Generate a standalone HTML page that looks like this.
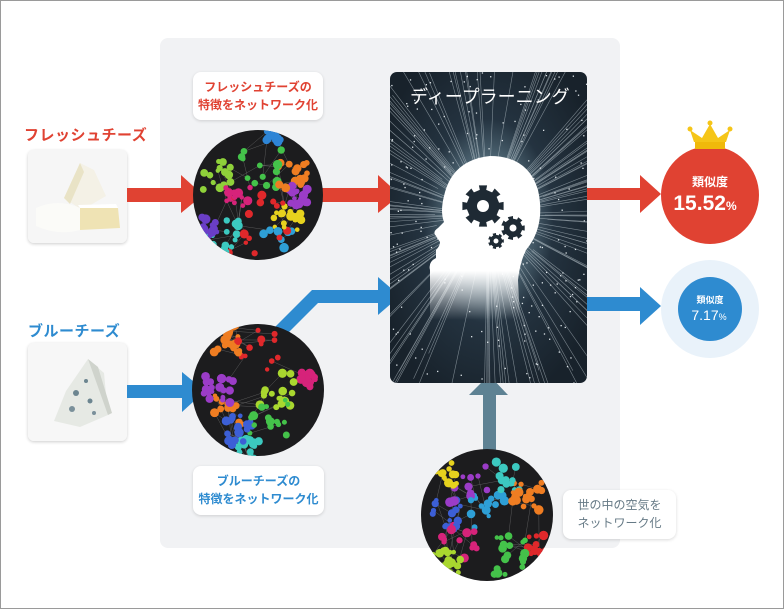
<!DOCTYPE html>
<html><head><meta charset="utf-8">
<style>
html,body{margin:0;padding:0;background:#fff;}
body{width:784px;height:609px;position:relative;overflow:hidden;font-family:"Liberation Sans","Noto Sans CJK JP",sans-serif;}
.frame{position:absolute;left:0;top:0;width:782px;height:607px;border:1px solid #9a9a9a;}
.panel{position:absolute;left:160px;top:38px;width:460px;height:510px;background:#f1f2f4;border-radius:8px;}
.lbl{position:absolute;font-weight:bold;font-size:15px;letter-spacing:0.5px;}
.card{position:absolute;background:#fafafa;border-radius:6px;box-shadow:0 1px 3px rgba(0,0,0,0.2);overflow:hidden;}
.callout{position:absolute;background:#fff;border-radius:8px;box-shadow:0 1px 3px rgba(0,0,0,0.15);text-align:center;font-weight:bold;font-size:12px;line-height:18px;}
svg{position:absolute;left:0;top:0;}
</style></head><body>
<div class="frame"></div>
<div class="panel"></div>

<div class="lbl" style="left:24px;top:124px;color:#e04232;">フレッシュチーズ</div>
<div class="card" style="left:28px;top:150px;width:99px;height:93px;">
 <svg width="99" height="93" viewBox="0 0 99 93">
  <rect width="99" height="93" fill="#f6f6f6"/>
  <polygon points="52,13 66,20 78,46 54,60 36,48" fill="#f4f1e6"/>
  <polygon points="52,13 36,48 42,54 56,22" fill="#e9e3c6"/>
  <path d="M8,58 Q30,48 52,58 L52,80 Q30,86 8,76 Z" fill="#fbfbf8"/>
  <polygon points="52,58 90,58 92,78 52,80" fill="#efe3b4"/>
  <polygon points="52,58 90,58 88,54 50,55" fill="#fff"/>
 </svg>
</div>
<div class="lbl" style="left:28px;top:320px;color:#2e8bd0;">ブルーチーズ</div>
<div class="card" style="left:28px;top:343px;width:99px;height:98px;">
 <svg width="99" height="98" viewBox="0 0 99 98">
  <rect width="99" height="98" fill="#f7f7f7"/>
  <polygon points="60,16 76,30 80,72 52,84 26,78 38,48" fill="#e6e9e4"/>
  <polygon points="60,16 80,72 84,70 70,24" fill="#cfd3cc"/>
  <circle cx="48" cy="50" r="3" fill="#6c8590"/><circle cx="58" cy="38" r="2" fill="#6c8590"/>
  <circle cx="44" cy="66" r="3" fill="#7a909a"/><circle cx="62" cy="58" r="2.5" fill="#6c8590"/>
  <circle cx="66" cy="70" r="2" fill="#7a909a"/>
 </svg>
</div>

<div class="callout" style="left:193px;top:72px;width:130px;height:48px;color:#e04232;padding-top:6px;box-sizing:border-box;">フレッシュチーズの<br>特徴をネットワーク化</div>
<div class="callout" style="left:193px;top:466px;width:131px;height:49px;color:#2e8bd0;padding-top:6px;box-sizing:border-box;">ブルーチーズの<br>特徴をネットワーク化</div>
<div class="callout" style="left:563px;top:490px;width:113px;height:49px;color:#667a86;padding-top:6px;box-sizing:border-box;font-weight:normal;">世の中の空気を<br>ネットワーク化</div>

<svg id="s" width="784" height="609" viewBox="0 0 784 609">
 <defs>
  <radialGradient id="glow" cx="0.5" cy="0.48" r="0.6">
   <stop offset="0" stop-color="#dfe8ee"/><stop offset="0.25" stop-color="#5f7a88"/><stop offset="0.55" stop-color="#243340"/><stop offset="1" stop-color="#18222b"/>
  </radialGradient>
  <linearGradient id="fade" x1="0" y1="0" x2="0" y2="1">
   <stop offset="0" stop-color="#fff" stop-opacity="1"/><stop offset="0.7" stop-color="#fff" stop-opacity="1"/><stop offset="1" stop-color="#fff" stop-opacity="0"/>
  </linearGradient>
  <clipPath id="dlc"><rect x="390" y="72" width="197" height="311" rx="7"/></clipPath>
  <clipPath id="c1"><circle cx="258" cy="195" r="65"/></clipPath>
  <clipPath id="c2"><circle cx="258" cy="390" r="66"/></clipPath>
  <clipPath id="c3"><circle cx="487" cy="515" r="66"/></clipPath>
 </defs>
 <g fill="#e04232">
  <rect x="127" y="188" width="56" height="14"/><polygon points="181,175 203,195 181,213"/>
  <rect x="322" y="188" width="58" height="14"/><polygon points="378,175 400,195 378,213"/>
  <rect x="587" y="188" width="55" height="12"/><polygon points="640,175 661,194 640,213"/>
 </g>
 <g fill="#2e8bd0">
  <rect x="127" y="385" width="57" height="13"/><polygon points="182,372 205,391 182,412"/>
  <polygon points="272,330 312,290 380,290 380,303 318,303 282,339"/><polygon points="378,277 400,296 378,315"/>
  <rect x="587" y="297" width="55" height="14"/><polygon points="640,287 661,306 640,325"/>
 </g>
 <g fill="#5e8293">
  <rect x="483" y="394" width="13" height="60"/><polygon points="469,395 489,375 508,395"/>
 </g>
 <g clip-path="url(#dlc)">
  <rect x="390" y="72" width="197" height="311" fill="url(#glow)"/>
  <g id="rays" stroke="#c9d4da" stroke-width="0.6" opacity="0.55"></g>
  <g id="sp" fill="#dfe6ea"></g>
  <path d="M430,320 L430,270 Q428,262 436,258 L436,250 Q440,246 440,242 L436,236 Q432,232 438,228 L444,222 Q440,212 444,196 Q452,160 490,156 Q528,156 538,190 Q546,226 526,250 Q520,262 518,280 L520,320 Z" fill="url(#fade)"/>
 </g>
 <g fill="#1e2a34"><g id="gear1"></g></g>
 <text x="410" y="103" fill="#fff" font-size="18" font-family="Liberation Sans, Noto Sans CJK JP, sans-serif">ディープラーニング</text>
 <circle cx="258" cy="195" r="65" fill="#1c1c1e"/>
 <circle cx="258" cy="390" r="66" fill="#1c1c1e"/>
 <circle cx="487" cy="515" r="66" fill="#1c1c1e"/>
 <g id="n1" clip-path="url(#c1)"></g>
 <g id="n2" clip-path="url(#c2)"></g>
 <g id="n3" clip-path="url(#c3)"></g>
 <circle cx="710" cy="195" r="49" fill="#e04232"/>
 <g fill="#f5c518">
  <polygon points="694,142 690,130 702,138 710,124 718,138 730,130 726,142"/>
  <rect x="695" y="142" width="30" height="7" fill="#f0b90b"/>
  <circle cx="690" cy="129" r="2.5"/><circle cx="710" cy="123" r="2.5"/><circle cx="730" cy="129" r="2.5"/>
 </g>
 <text x="710" y="186" fill="#fff" font-size="12" font-weight="bold" text-anchor="middle" font-family="Liberation Sans, Noto Sans CJK JP, sans-serif">類似度</text>
 <text x="705" y="210" fill="#fff" font-size="21" font-weight="bold" text-anchor="middle" font-family="Liberation Sans, sans-serif">15.52<tspan font-size="12">%</tspan></text>
 <circle cx="710" cy="309" r="49" fill="#e9f2fa"/>
 <circle cx="710" cy="309" r="32" fill="#2e8bd0"/>
 <text x="710" y="303" fill="#fff" font-size="9" font-weight="bold" text-anchor="middle" font-family="Liberation Sans, Noto Sans CJK JP, sans-serif">類似度</text>
 <text x="709" y="320" fill="#fff" font-size="14" text-anchor="middle" font-family="Liberation Sans, sans-serif">7.17<tspan font-size="9">%</tspan></text>
</svg>
<script>
(function(){
 var seed=7;function r(){seed=(seed*16807)%2147483647;return seed/2147483647;}
 var NS="http://www.w3.org/2000/svg";
 function el(t,a,p){var e=document.createElementNS(NS,t);for(var k in a)e.setAttribute(k,a[k]);p.appendChild(e);return e;}
 var rays=document.getElementById('rays'),cx=488,cy=215;
 for(var i=0;i<160;i++){var a=r()*6.283,l1=20+r()*40,l2=150+r()*100;
  el('line',{x1:cx+Math.cos(a)*l1,y1:cy+Math.sin(a)*l1,x2:cx+Math.cos(a)*l2,y2:cy+Math.sin(a)*l2},rays);}
 var sp=document.getElementById('sp');
 for(i=0;i<220;i++)el('rect',{x:390+r()*197,y:72+r()*311,width:1.3,height:1.3},sp);
 var g=document.getElementById('gear1');
 function gear(x,y,R,n,hole){var d='';for(var k=0;k<n*2;k++){var a=k*Math.PI/n,rr=(k%2?R*0.78:R);
   var a1=a-Math.PI/n/2,a2=a+Math.PI/n/2;d+=(k?'L':'M')+(x+Math.cos(a1)*rr)+','+(y+Math.sin(a1)*rr)+'L'+(x+Math.cos(a2)*rr)+','+(y+Math.sin(a2)*rr);}
  el('path',{d:d+'Z'},g);el('circle',{cx:x,cy:y,r:hole,fill:'#fff'},g);}
 gear(483,206,21,8,6);gear(513,228,12,7,3.5);gear(496,241,8,7,2.5);
 function net(id,cx,cy,groups){var p=document.getElementById(id),pts=[];
  for(var k=0;k<160;k++){var gi=groups[Math.floor(r()*groups.length)];
   var x=gi[0]+(r()-0.5)*gi[3],y=gi[1]+(r()-0.5)*gi[3];pts.push([cx+x,cy+y,gi[2]]);}
  var ln=el('g',{stroke:'#888',"stroke-width":0.4,opacity:0.7},p);
  for(k=0;k<220;k++){var a=pts[Math.floor(r()*pts.length)],b=pts[Math.floor(r()*pts.length)];
   if(Math.abs(a[0]-b[0])+Math.abs(a[1]-b[1])<50)el('line',{x1:a[0],y1:a[1],x2:b[0],y2:b[1]},ln);}
  pts.forEach(function(q){el('circle',{cx:q[0],cy:q[1],r:2.2+r()*2.6,fill:q[2]},p);});}
 net('n1',258,195,[[-40,-20,'#8fd13a',30],[0,-25,'#44c24a',50],[35,-20,'#ef7d22',30],[-20,0,'#d6237a',25],[30,20,'#e6d21e',30],[0,30,'#e0282b',60],[-35,45,'#3cc9c0',40],[20,50,'#2e9fd6',30],[-50,30,'#6a3ec7',20],[40,0,'#9b3cc7',20],[15,-60,'#2e85d6',15]]);
 net('n2',258,390,[[0,-40,'#e0282b',40],[-30,-50,'#ef7d22',30],[20,0,'#a9d72f',40],[-40,0,'#9b3cc7',30],[-30,20,'#ef7d22',30],[10,30,'#44c24a',40],[-20,40,'#3c5fd6',30],[-10,60,'#3cc9c0',25],[50,-10,'#d6237a',15]]);
 net('n3',487,515,[[-40,-40,'#e6d21e',25],[-20,-30,'#9b3cc7',40],[20,-40,'#3cc9c0',30],[40,-20,'#ef7d22',30],[-40,0,'#3c5fd6',30],[-30,30,'#d6237a',40],[20,40,'#44c24a',40],[0,0,'#2e9fd6',40],[50,30,'#e0282b',20],[-40,50,'#a9d72f',30]]);
})();
</script>
</body></html>
